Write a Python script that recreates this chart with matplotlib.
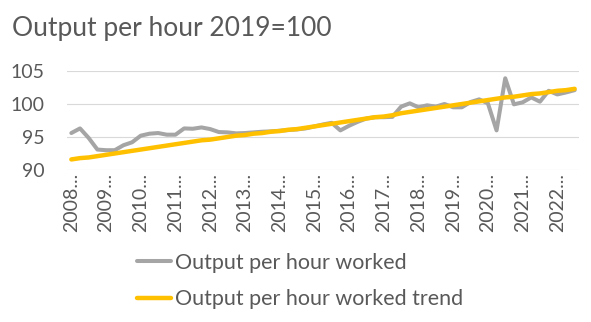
import numpy as np
import matplotlib
matplotlib.use('Agg')
import matplotlib.pyplot as plt

# quarterly data, 2008 Q1 onwards
output_per_hour = [95.6, 96.3, 94.85, 93.1, 93.0, 93.0, 93.75, 94.2, 95.2, 95.5,
                   95.6, 95.35, 95.35, 96.3, 96.25, 96.45, 96.2, 95.75, 95.7, 95.55,
                   95.6, 95.7, 95.8, 95.85, 95.95, 96.05, 96.15, 96.3, 96.6, 96.9,
                   97.15, 96.0, 96.7, 97.3, 97.8, 98.0, 98.0, 98.05, 99.6, 100.1,
                   99.5, 99.8, 99.6, 100.0, 99.5, 99.5, 100.3, 100.7, 100.1, 96.0,
                   103.9, 99.95, 100.25, 101.0, 100.35, 102.0, 101.45, 101.75, 102.1]
output_trend = [91.6, 91.8, 91.9, 92.1, 92.3, 92.5, 92.7, 92.9, 93.1, 93.3,
                93.5, 93.7, 93.9, 94.1, 94.3, 94.5, 94.6, 94.8, 95.0, 95.2,
                95.3, 95.5, 95.6, 95.8, 95.9, 96.1, 96.2, 96.4, 96.6, 96.8,
                97.0, 97.2, 97.4, 97.6, 97.8, 98.0, 98.1, 98.3, 98.6, 98.8,
                99.0, 99.2, 99.4, 99.6, 99.8, 100.0, 100.2, 100.4, 100.6, 100.8,
                101.0, 101.1, 101.3, 101.5, 101.6, 101.8, 102.0, 102.1, 102.3]
years = ['2008', '2009', '2010', '2011', '2012', '2013', '2014', '2015',
         '2016', '2017', '2018', '2019', '2020', '2021', '2022']
y_ticks = [90, 95, 100, 105]

plt.rcParams['font.family'] = ['Lato', 'DejaVu Sans']
txt = '#595959'

W, H = 591, 322
fig = plt.figure(figsize=(W / 100, H / 100), dpi=100)
ax = fig.add_axes([67 / W, 1 - 170 / H, 512 / W, 99 / H])

x = np.arange(len(output_per_hour))
ax.plot(x, output_per_hour, color='#A5A5A5', lw=2.9, solid_capstyle='round',
        label='Output per hour worked')
ax.plot(x, output_trend, color='#FFC000', lw=3.2, solid_capstyle='round',
        label='Output per hour worked trend')

ax.set_xlim(-0.5, len(x) - 0.5)
ax.set_ylim(90, 105)
ax.set_yticks(y_ticks)
ax.set_xticks(x[::4])
ax.set_xticklabels([y + '...' for y in years], rotation=90, va='top', ha='center')
ax.tick_params(axis='x', length=0, pad=2, labelsize=14, labelcolor=txt)
ax.tick_params(axis='y', length=0, pad=16, labelsize=14, labelcolor=txt)
ax.grid(axis='y', color='#D9D9D9', lw=0.8)
ax.set_axisbelow(True)
for s in ax.spines.values():
    s.set_visible(False)

fig.text(12 / W, 1 - 36 / H, 'Output per hour 2019=100', fontsize=19,
         color=txt, va='baseline', ha='left')

leg = fig.legend(loc='center left', bbox_to_anchor=(137 / W, 1 - 281 / H),
                 frameon=False, fontsize=15.5, handlelength=1.6,
                 handletextpad=0.15, labelspacing=0.75, borderpad=0,
                 borderaxespad=0)
for t in leg.get_texts():
    t.set_color(txt)

fig.savefig('out.png', dpi=100)
